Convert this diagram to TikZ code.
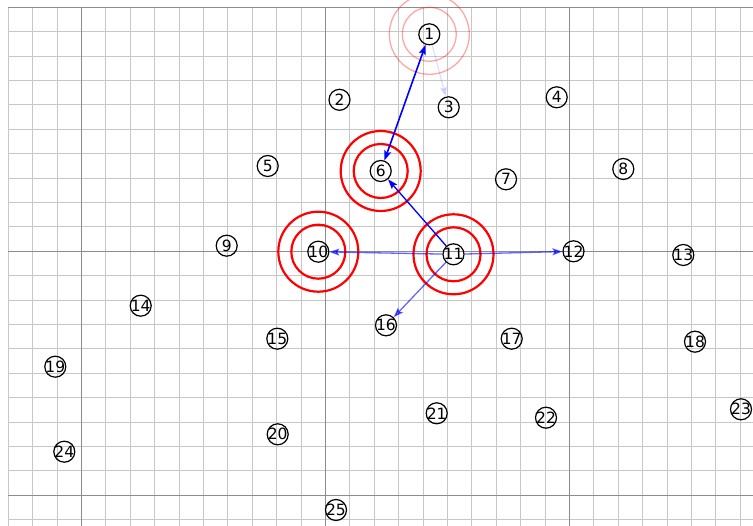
\documentclass[tikz,border=0pt]{standalone}
\usepackage{fontspec}
\setmainfont{DejaVu Sans}
\usetikzlibrary{arrows.meta}
\begin{document}
\begin{tikzpicture}[x=1pt,y=-1pt,
  minorline/.style={draw=black!22,line width=1.1pt},
  majorline/.style={draw=black!45,line width=1.1pt},
  vertex/.style={circle,draw=black,line width=1.2pt,minimum size=21pt,inner sep=0pt,
                 font=\fontsize{15.5}{15.5}\selectfont},
  ring/.style={draw=red,line width=2.2pt},
  faintring/.style={draw=red,draw opacity=0.35,line width=1.3pt},
  link/.style={draw=blue,line width=1.3pt,-{Stealth[length=10pt,width=7pt,inset=2pt]}},
  softlink/.style={link,draw opacity=0.6,fill opacity=0.6},
  ghostlink/.style={link,draw opacity=0.12,fill opacity=0.12},
]
\useasboundingbox (0,0) rectangle (753,526);
\fill[white] (0,0) rectangle (753,526);

% square grid
\foreach \k in {0,...,30}
  \draw[minorline] ({8.3+24.4*\k},7.3) -- ({8.3+24.4*\k},526);
\foreach \k in {0,...,21}
  \draw[minorline] (8.3,{7.3+24.4*\k}) -- (753,{7.3+24.4*\k});
\foreach \k in {3,13,23}
  \draw[majorline] ({8.3+24.4*\k},7.3) -- ({8.3+24.4*\k},526);
\foreach \k in {0,10,20}
  \draw[majorline] (8.3,{7.3+24.4*\k}) -- (753,{7.3+24.4*\k});

% numbered vertices
\newcommand{\vtx}[3]{\node[vertex] (n#1) at (#2,#3) {\makebox[0pt]{#1}};}
\vtx{1}{429.3}{34.3}
\vtx{2}{339.5}{99.8}
\vtx{3}{448.7}{107.3}
\vtx{4}{556.7}{97.3}
\vtx{5}{267.7}{166}
\vtx{6}{380.7}{171}
\vtx{7}{506}{179.3}
\vtx{8}{623.3}{169}
\vtx{9}{226.7}{245.7}
\vtx{10}{318.3}{251.7}
\vtx{11}{453.5}{254.3}
\vtx{12}{573.5}{251.3}
\vtx{13}{683.3}{255}
\vtx{14}{140.7}{305.7}
\vtx{15}{277.3}{338.7}
\vtx{16}{386}{325.3}
\vtx{17}{511.7}{338.7}
\vtx{18}{695}{341.7}
\vtx{19}{55.3}{366.7}
\vtx{20}{277.7}{434.3}
\vtx{21}{436.7}{413.3}
\vtx{22}{546}{417.7}
\vtx{23}{741}{409.3}
\vtx{24}{64.3}{451.7}
\vtx{25}{336}{510}

% rings around the active vertices
\draw[faintring] (n1) circle[radius=27pt] (n1) circle[radius=40pt];
\foreach \v in {6,10,11}
  \draw[ring] (n\v) circle[radius=27pt] (n\v) circle[radius=40pt];

% links
\draw[link,line width=1.6pt,{Stealth[length=10pt,width=7pt,inset=2pt]}-{Stealth[length=10pt,width=7pt,inset=2pt]}] (n6) -- (n1);
\draw[ghostlink] (n1) -- (n3);
\draw[link] (n11) -- (n6);
\draw[softlink] (n11) -- (n10);
\draw[softlink] (n11) -- (n12);
\draw[softlink] (n11) -- (n16);
\end{tikzpicture}
\end{document}
